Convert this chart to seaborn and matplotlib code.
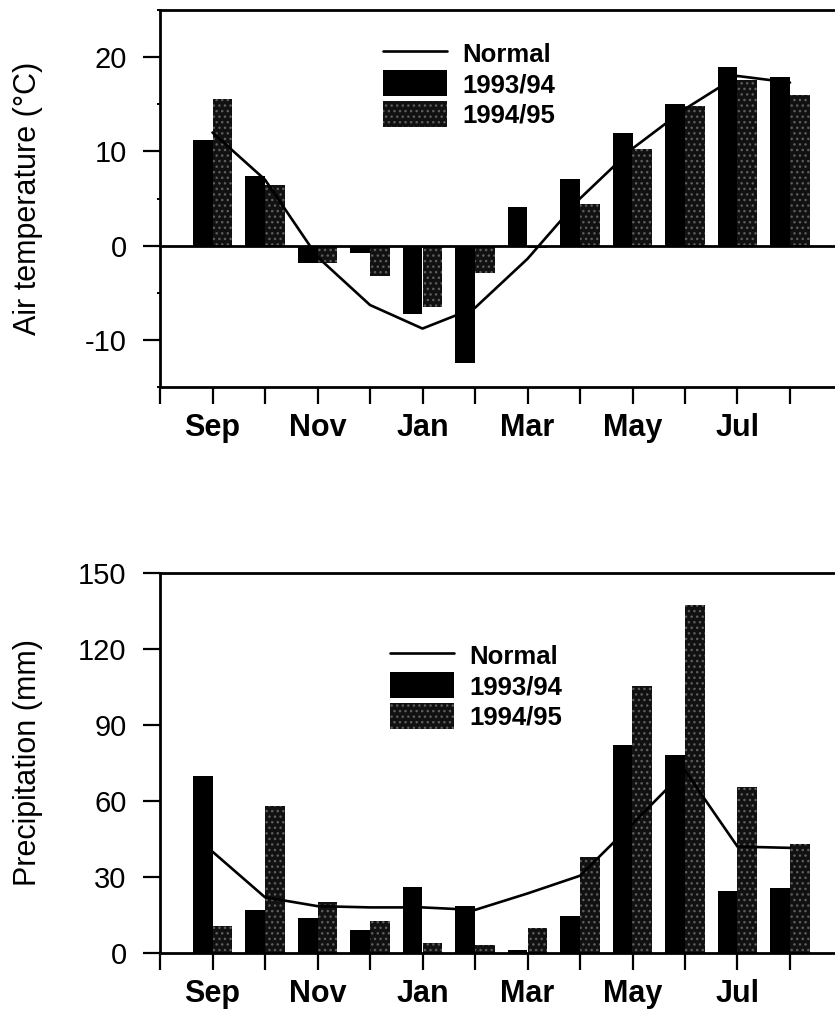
import numpy as np
import pandas as pd
import matplotlib
matplotlib.use("Agg")
import matplotlib.pyplot as plt
import seaborn as sns
from matplotlib.patches import Patch
from matplotlib.lines import Line2D
from matplotlib.ticker import MultipleLocator

# ---------------- data ----------------
months = ['Sep', 'Oct', 'Nov', 'Dec', 'Jan', 'Feb', 'Mar', 'Apr', 'May', 'Jun', 'Jul', 'Aug']
month_labels = ['Sep', '', 'Nov', '', 'Jan', '', 'Mar', '', 'May', '', 'Jul', '']
seasons = ['1993/94', '1994/95']

temp_normal = [12.0, 7.0, -1.2, -6.3, -8.8, -6.6, -1.4, 5.0, 10.3, 14.5, 18.0, 17.3]
temp_9394 = [11.2, 7.4, -1.8, -0.8, -7.3, -12.5, 4.1, 7.1, 12.0, 15.0, 18.9, 17.9]
temp_9495 = [15.6, 6.4, -1.8, -3.2, -6.5, -2.9, -0.3, 4.4, 10.2, 14.8, 17.6, 16.0]

precip_normal = [40, 22, 18.5, 18, 18, 17, 23.5, 30.5, 51, 72, 42, 41.5]
precip_9394 = [70, 17, 14, 9, 26, 18.5, 1, 14.5, 82, 78, 24.5, 25.5]
precip_9495 = [10.5, 58, 20, 12.5, 4, 3, 9.7, 38, 105.5, 137.5, 65.5, 43]

temp_ticks = [-10, 0, 10, 20]
precip_ticks = [0, 30, 60, 90, 120, 150]

# ---------------- style ----------------
sns.set_style("white")
plt.rcParams['font.family'] = ['Liberation Sans', 'DejaVu Sans']
plt.rcParams['hatch.linewidth'] = 1.0
plt.rcParams['axes.unicode_minus'] = False
for k in ['text.color', 'axes.labelcolor', 'xtick.color', 'ytick.color',
          'xtick.labelcolor', 'ytick.labelcolor']:
    plt.rcParams[k] = 'black'

C_A = '#000000'
C_B = '#111111'
HATCH_C = '#5e5e5e'
HATCH = '...'

W, H = 835, 1025
fig = plt.figure(figsize=(W / 100, H / 100), dpi=100)
ax1 = fig.add_axes([160 / W, 1 - 387 / H, 682.5 / W, 377 / H])
ax2 = fig.add_axes([160 / W, 1 - 953 / H, 682.5 / W, 380 / H])

pos = np.arange(len(months))


def draw(ax, a, b, normal):
    df = pd.DataFrame({
        'pos': np.concatenate([pos, pos]),
        'value': list(a) + list(b),
        'season': [seasons[0]] * len(a) + [seasons[1]] * len(b),
    })
    sns.barplot(data=df, x='pos', y='value', hue='season', hue_order=seasons,
                palette=[C_A, C_B], width=0.76, native_scale=True,
                errorbar=None, legend=False, saturation=1, linewidth=0,
                ax=ax, zorder=2)
    for bar in ax.containers[1]:
        bar.set_hatch(HATCH)
        bar.set_edgecolor(HATCH_C)
        bar.set_linewidth(0)
    sns.lineplot(x=pos, y=normal, color='black', linewidth=1.9, ax=ax,
                 zorder=3, sort=False)

    ax.set_xlim(-1, 12)
    ax.set_xticks(np.arange(-1, 13))
    ax.set_xticklabels([''] + month_labels + [''], fontsize=22, fontweight='bold')
    ax.set_xlabel('')
    for s in ax.spines.values():
        s.set_linewidth(2.0)
        s.set_color('black')
    ax.tick_params(axis='x', direction='out', length=12, width=1.6, pad=7,
                   bottom=True, colors='black')
    ax.tick_params(axis='y', which='major', direction='out', length=12,
                   width=1.6, pad=12, left=True, labelsize=21, colors='black')


draw(ax1, temp_9394, temp_9495, temp_normal)
ax1.set_ylim(-15, 25)
ax1.set_yticks(temp_ticks)
ax1.yaxis.set_minor_locator(MultipleLocator(5))
ax1.tick_params(axis='y', which='minor', direction='out', length=2.5,
                width=1.4, left=True)
ax1.axhline(0, color='black', lw=2.0, zorder=4)
ax1.set_ylabel('Air temperature (°C)', fontsize=22, color='black')
ax1.yaxis.set_label_coords(-0.172, 0.5)

draw(ax2, precip_9394, precip_9495, precip_normal)
ax2.set_ylim(0, 150)
ax2.set_yticks(precip_ticks)
ax2.set_ylabel('Precipitation (mm)', fontsize=22, color='black')
ax2.yaxis.set_label_coords(-0.172, 0.5)


def legend(ax, x_px, y_px):
    handles = [
        Line2D([0], [0], color='black', lw=1.9),
        Patch(facecolor=C_A, edgecolor=C_A, lw=0),
        Patch(facecolor=C_B, edgecolor=HATCH_C, hatch=HATCH, lw=0),
    ]
    leg = ax.legend(handles, ['Normal'] + seasons, loc='upper left',
                    bbox_to_anchor=(x_px / W, 1 - y_px / H),
                    bbox_transform=fig.transFigure, frameon=False,
                    prop={'size': 18.5, 'weight': 'bold'},
                    handlelength=2.5, handleheight=1.17, handletextpad=0.6,
                    labelspacing=0.15, borderpad=0, borderaxespad=0)
    for t in leg.get_texts():
        t.set_color('black')


legend(ax1, 383, 40)
legend(ax2, 390, 642)

fig.savefig('out.png', dpi=100)
